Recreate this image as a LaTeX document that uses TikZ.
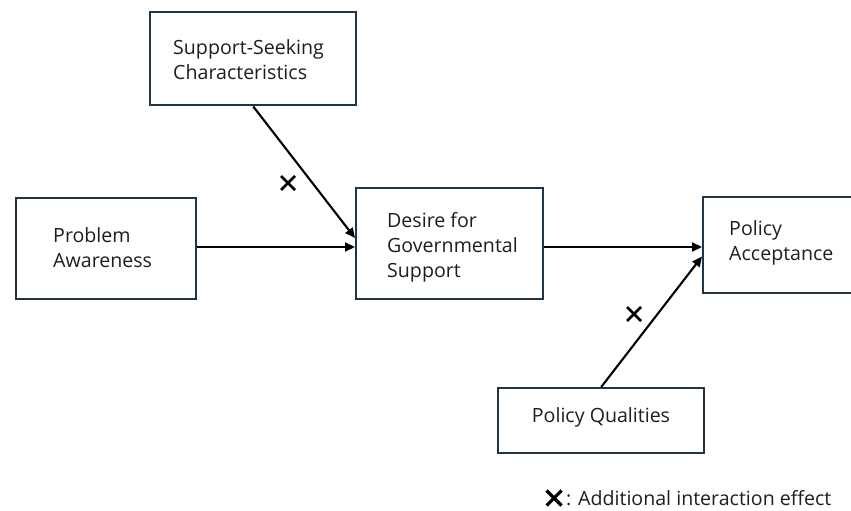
\documentclass[tikz,border=0pt]{standalone}
\usepackage{fontspec}
\setmainfont{Open Sans}
\usetikzlibrary{arrows.meta,calc}
\definecolor{boxline}{HTML}{1F3445}
\definecolor{txt}{HTML}{1E1E1E}
\tikzset{
  box/.style={draw=boxline, line width=2.4pt, fill=white, inner sep=0pt, anchor=north west},
  lbl/.style={anchor=west, align=left, inner sep=0pt, text=txt, font=\fontsize{19.6}{25}\selectfont},
  arr/.style={black, line width=2.1pt, -{Triangle[length=10pt,width=9pt]}},
  xmark/.style={black, line width=2.7pt}
}
\begin{document}
\begin{tikzpicture}[x=1pt,y=-1pt]
\useasboundingbox (0,0) rectangle (851,511);
% boxes
\node[box, minimum width=206pt, minimum height=93pt] (ssc) at (149,11) {};
\node[box, minimum width=180pt, minimum height=101pt] (pa) at (15,197) {};
\node[box, minimum width=187pt, minimum height=111pt] (des) at (355,187) {};
\node[box, minimum width=155pt, minimum height=96pt] (acc) at (702,196) {};
\node[box, minimum width=206pt, minimum height=65pt] (pq) at (497,387) {};
% texts
\node[lbl] (tssc) at (173,59.5) {Support-Seeking\\Characteristics};
\node[lbl] (tpa) at (53,248) {Problem\\Awareness};
\node[lbl] (tdes) at (387,247) {Desire for\\Governmental\\Support};
\node[lbl] (tacc) at (729,243) {Policy\\Acceptance};
\node[lbl, anchor=center] (tpq) at (601,417) {Policy Qualities};
% connectors
\coordinate (y0) at (0,247);
\draw[arr] (pa.east |- y0) -- (des.west |- y0);
\draw[arr] (des.east |- y0) -- (acc.west |- y0);
\coordinate (sscin) at ($(des.north west)!0.45!(des.south west)$);
\draw[arr] (ssc.south) -- (sscin);
\coordinate (pqin) at ($(acc.north west)!0.615!(acc.south west)$);
\draw[arr] (pq.north) -- (pqin);
% interaction marks
\coordinate (x1) at (288,183);
\coordinate (x2) at (634,314);
\foreach \c in {x1,x2}{
  \draw[xmark] ($(\c)+(-7,-7)$) -- ($(\c)+(7,7)$);
  \draw[xmark] ($(\c)+(-7,7)$) -- ($(\c)+(7,-7)$);
}
% legend
\coordinate (lx) at (554,498);
\draw[xmark, line width=3.2pt] ($(lx)+(-7.5,-7.5)$) -- ($(lx)+(7.5,7.5)$);
\draw[xmark, line width=3.2pt] ($(lx)+(-7.5,7.5)$) -- ($(lx)+(7.5,-7.5)$);
\node[lbl] (leg) at (566,498) {: Additional interaction effect};
\end{tikzpicture}
\end{document}
